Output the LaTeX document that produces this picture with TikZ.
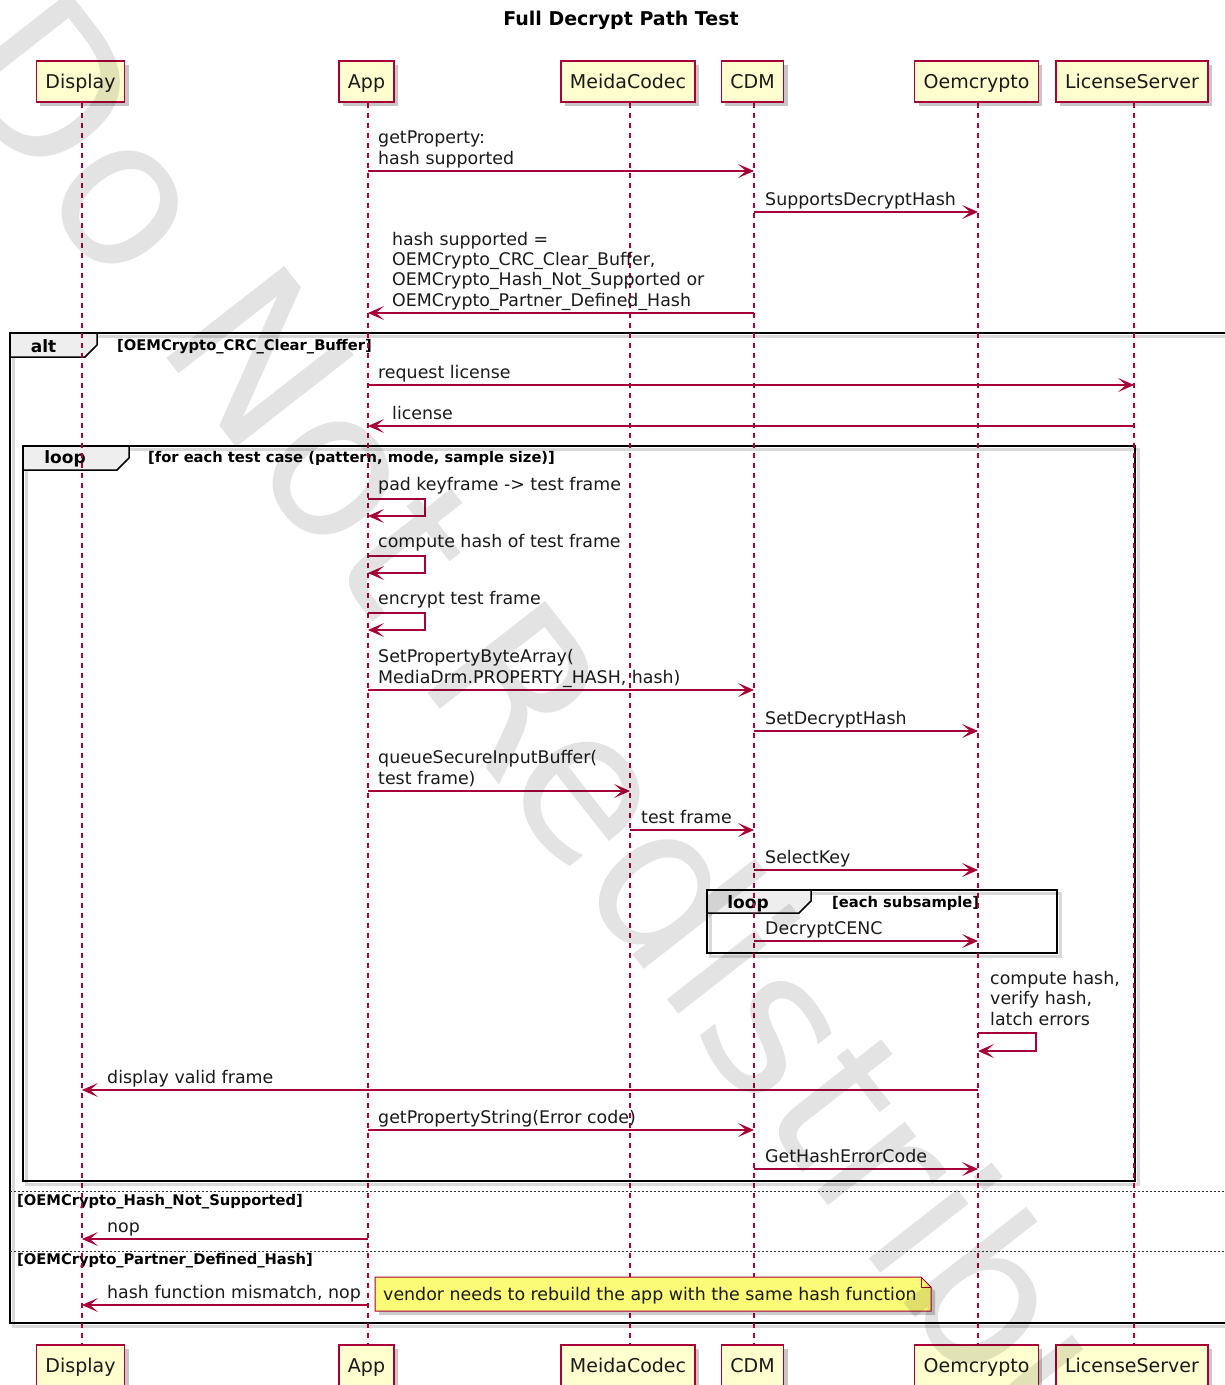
\documentclass[tikz,border=0pt]{standalone}
\usepackage{fontspec}
\setmainfont{DejaVu Sans}
\usetikzlibrary{arrows.meta,shadows}
\definecolor{pline}{HTML}{A80036}
\definecolor{pfill}{HTML}{FEFECE}
\definecolor{nfill}{HTML}{FBFB77}
\definecolor{tabfill}{HTML}{EEEEEE}
\definecolor{txt}{HTML}{1A1A1A}
\tikzset{
  part/.style={draw=pline, fill=pfill, line width=1.4pt, minimum height=41pt, inner xsep=9pt, inner ysep=0pt,
    text height=14pt, text depth=0pt,
    font=\fontsize{19}{22}\selectfont, text=txt,
    drop shadow={shadow xshift=4pt, shadow yshift=-4pt, fill=black, opacity=0.22}},
  lifeline/.style={draw=pline, line width=1.1pt, dash pattern=on 5pt off 5pt},
  msg/.style={draw=pline, line width=1.1pt, -{Stealth[length=16pt,width=14pt,inset=8pt]}},
  mtxt/.style={font=\fontsize{17.4}{20.3}\selectfont, text=txt, inner sep=0pt, anchor=south west, align=left, execute at end node=\strut},
  frame/.style={draw=black, line width=2.7pt},
  frameshadow/.style={draw=black, line width=3pt, opacity=0.15},
  tab/.style={draw=black, fill=tabfill, line width=1.5pt},
  tabtxt/.style={font=\bfseries\fontsize{17}{20}\selectfont, text=black, inner sep=0pt, anchor=base},
  cond/.style={font=\bfseries\fontsize{14.7}{17}\selectfont, text=black, inner sep=0pt, anchor=base west},
  sep/.style={draw=black!80, line width=0.8pt, dash pattern=on 2pt off 2pt},
  notebox/.style={draw=pline, fill=nfill, line width=1pt},
}
\begin{document}
\begin{tikzpicture}[x=1pt,y=-1pt]
\useasboundingbox (0,0) rectangle (1225,1385);
\fill[white] (0,0) rectangle (1225,1385);

% title
\node[font=\bfseries\fontsize{19}{22}\selectfont, text=black, anchor=base, inner sep=0pt] (title) at (621,25) {Full Decrypt Path Test};

% lifeline x positions
\coordinate (Ld) at (82,0);
\coordinate (La) at (368,0);
\coordinate (Lm) at (630,0);
\coordinate (Lc) at (754,0);
\coordinate (Lo) at (978,0);
\coordinate (Ll) at (1134,0);

% frame shadows
\draw[frameshadow] (13,336) rectangle (1253,1326);
\draw[frameshadow] (26,449) rectangle (1138,1184);
\draw[frameshadow] (710,893) rectangle (1060,956);

% alt frame
\draw[frame] (10,333) rectangle (1250,1323);
\draw[tab] (10,333) -- (97,333) -- (97,345) -- (85,357) -- (10,357) -- cycle;
\node[tabtxt] (altlbl) at (43.5,352) {alt};
\node[cond] (c1) at (117,350) {[OEMCrypto\_CRC\_Clear\_Buffer]};
\draw[sep] (10,1191) -- (1225,1191);
\node[cond] (c2) at (17,1205) {[OEMCrypto\_Hash\_Not\_Supported]};
\draw[sep] (10,1251) -- (1225,1251);
\node[cond] (c3) at (17,1264) {[OEMCrypto\_Partner\_Defined\_Hash]};

% big loop frame
\draw[frame] (23,446) rectangle (1135,1181);
\draw[tab] (23,446) -- (129,446) -- (129,458) -- (117,470) -- (23,470) -- cycle;
\node[tabtxt] (looplbl) at (65,463) {loop};
\node[cond] (c4) at (148,462) {[for each test case (pattern, mode, sample size)]};

% inner loop frame
\draw[frame] (707,890) rectangle (1057,953);
\draw[tab] (707,890) -- (811,890) -- (811,901) -- (799,913) -- (707,913) -- cycle;
\node[tabtxt] (loop2lbl) at (748,908) {loop};
\node[cond] (c5) at (832,907) {[each subsample]};

% participants
\node[part] (dT) at (80.5,81.5) {Display};
\node[part] (aT) at (366.5,81.5) {App};
\node[part] (mT) at (628,81.5) {MeidaCodec};
\node[part] (cT) at (752.5,81.5) {CDM};
\node[part] (oT) at (976.5,81.5) {Oemcrypto};
\node[part] (lT) at (1132,81.5) {LicenseServer};
\node[part] (dB) at (80.5,1365.5) {Display};
\node[part] (aB) at (366.5,1365.5) {App};
\node[part] (mB) at (628,1365.5) {MeidaCodec};
\node[part] (cB) at (752.5,1365.5) {CDM};
\node[part] (oB) at (976.5,1365.5) {Oemcrypto};
\node[part] (lB) at (1132,1365.5) {LicenseServer};

% lifelines
\draw[lifeline] (Ld|-dT.south) -- (Ld|-dB.north);
\draw[lifeline] (La|-aT.south) -- (La|-aB.north);
\draw[lifeline] (Lm|-mT.south) -- (Lm|-mB.north);
\draw[lifeline] (Lc|-cT.south) -- (Lc|-cB.north);
\draw[lifeline] (Lo|-oT.south) -- (Lo|-oB.north);
\draw[lifeline] (Ll|-lT.south) -- (Ll|-lB.north);

% messages
\coordinate (y1) at (0,171);
\draw[msg] (La|-y1) -- (Lc|-y1);
\node[mtxt] (t1) at (378,170.5) {getProperty:\\hash supported};

\coordinate (y2) at (0,212);
\draw[msg] (Lc|-y2) -- (Lo|-y2);
\node[mtxt] (t2) at (765,211.5) {SupportsDecryptHash};

\coordinate (y3) at (0,313);
\draw[msg] (Lc|-y3) -- (La|-y3);
\node[mtxt] (t3) at (392,312.5) {hash supported =\\OEMCrypto\_CRC\_Clear\_Buffer,\\OEMCrypto\_Hash\_Not\_Supported or\\OEMCrypto\_Partner\_Defined\_Hash};

\coordinate (y4) at (0,385);
\draw[msg] (La|-y4) -- (Ll|-y4);
\node[mtxt] (t4) at (378,384.5) {request license};

\coordinate (y5) at (0,426);
\draw[msg] (Ll|-y5) -- (La|-y5);
\node[mtxt] (t5) at (392,425.5) {license};

\coordinate (s1) at (0,499); \coordinate (s1b) at (0,516);
\draw[msg] (La|-s1) -- ++(57,0) |- (La|-s1b);
\node[mtxt] (t6) at (378,497) {pad keyframe -> test frame};

\coordinate (s2) at (0,556); \coordinate (s2b) at (0,573);
\draw[msg] (La|-s2) -- ++(57,0) |- (La|-s2b);
\node[mtxt] (t7) at (378,554) {compute hash of test frame};

\coordinate (s3) at (0,613); \coordinate (s3b) at (0,630);
\draw[msg] (La|-s3) -- ++(57,0) |- (La|-s3b);
\node[mtxt] (t8) at (378,611) {encrypt test frame};

\coordinate (y6) at (0,690);
\draw[msg] (La|-y6) -- (Lc|-y6);
\node[mtxt] (t9) at (378,689.5) {SetPropertyByteArray(\\MediaDrm.PROPERTY\_HASH, hash)};

\coordinate (y7) at (0,731);
\draw[msg] (Lc|-y7) -- (Lo|-y7);
\node[mtxt] (t10) at (765,730.5) {SetDecryptHash};

\coordinate (y8) at (0,791);
\draw[msg] (La|-y8) -- (Lm|-y8);
\node[mtxt] (t11) at (378,790.5) {queueSecureInputBuffer(\\test frame)};

\coordinate (y9) at (0,830);
\draw[msg] (Lm|-y9) -- (Lc|-y9);
\node[mtxt] (t12) at (641,829.5) {test frame};

\coordinate (y10) at (0,870);
\draw[msg] (Lc|-y10) -- (Lo|-y10);
\node[mtxt] (t13) at (765,869.5) {SelectKey};

\coordinate (y11) at (0,941);
\draw[msg] (Lc|-y11) -- (Lo|-y11);
\node[mtxt] (t14) at (765,940.5) {DecryptCENC};

\coordinate (s4) at (0,1033); \coordinate (s4b) at (0,1051);
\draw[msg] (Lo|-s4) -- ++(58,0) |- (Lo|-s4b);
\node[mtxt] (t15) at (990,1031.5) {compute hash,\\verify hash,\\latch errors};

\coordinate (y12) at (0,1090);
\draw[msg] (Lo|-y12) -- (Ld|-y12);
\node[mtxt] (t16) at (107,1089.5) {display valid frame};

\coordinate (y13) at (0,1130);
\draw[msg] (La|-y13) -- (Lc|-y13);
\node[mtxt] (t17) at (378,1129.5) {getPropertyString(Error code)};

\coordinate (y14) at (0,1169);
\draw[msg] (Lc|-y14) -- (Lo|-y14);
\node[mtxt] (t18) at (765,1168.5) {GetHashErrorCode};

\coordinate (y15) at (0,1239);
\draw[msg] (La|-y15) -- (Ld|-y15);
\node[mtxt] (t19) at (107,1238.5) {nop};

\coordinate (y16) at (0,1305);
\draw[msg] (La|-y16) -- (Ld|-y16);
\node[mtxt] (t20) at (107,1304.5) {hash function mismatch, nop};

% note
\fill[black, opacity=0.2] (379,1281) -- (925,1281) -- (935,1291) -- (935,1315) -- (379,1315) -- cycle;
\draw[notebox] (375,1277) -- (921,1277) -- (931,1287) -- (931,1311) -- (375,1311) -- cycle;
\draw[draw=pline, line width=1pt] (921,1277) -- (921,1287) -- (931,1287);
\node[font=\fontsize{17.4}{20.3}\selectfont, text=txt, inner sep=0pt, anchor=base west] (note) at (383,1300) {vendor needs to rebuild the app with the same hash function};

% watermark
\node[rotate=-52, anchor=base, inner sep=0pt, font=\fontsize{205}{205}\selectfont, text=black, text opacity=0.11] (wm) at (560,862) {Do Not Redistribute};
\end{tikzpicture}
\end{document}
